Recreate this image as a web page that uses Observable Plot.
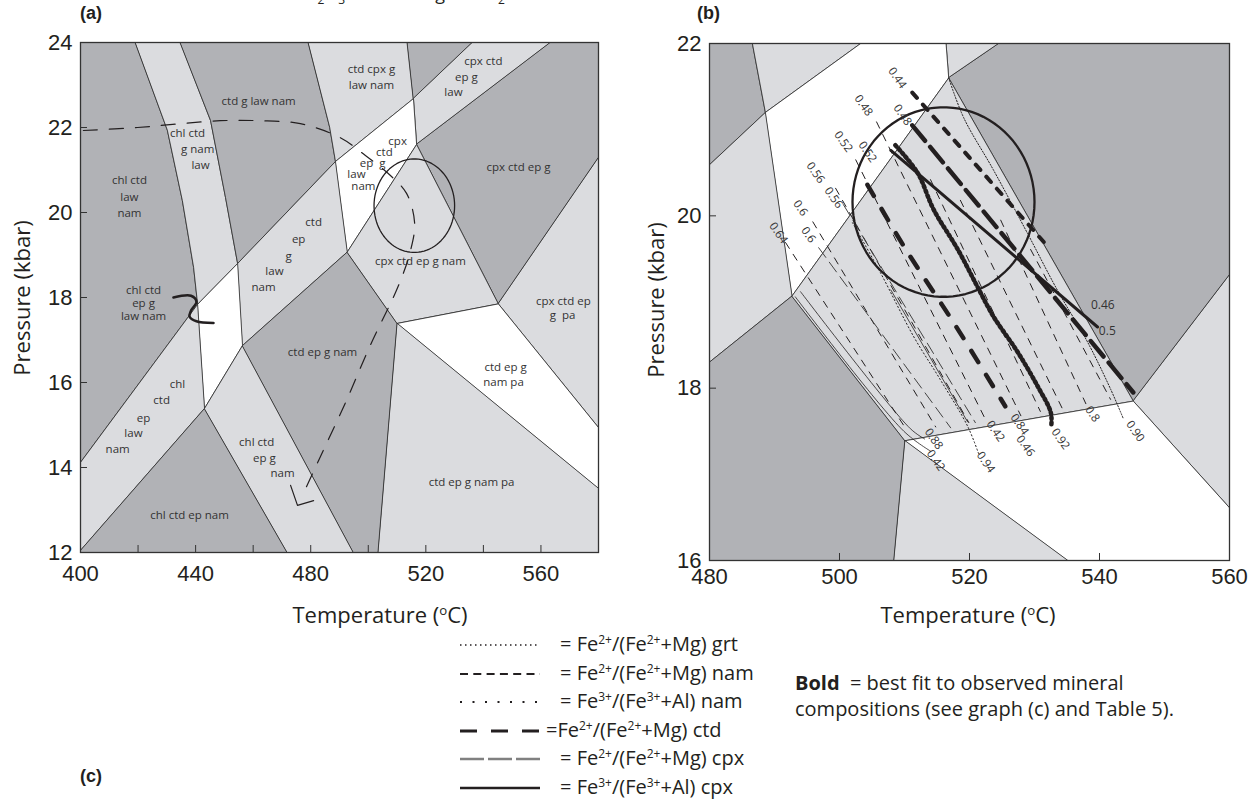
<!DOCTYPE html>
<html><head><meta charset="utf-8">
<script src="https://cdn.jsdelivr.net/npm/d3@7"></script>
<script src="https://cdn.jsdelivr.net/npm/@observablehq/plot@0.6"></script>
<style>
body{margin:0;background:#fff;}
#root{position:relative;width:1252px;height:804px;overflow:hidden;font-family:"Open Sans",sans-serif;color:#231f20;}
.abs{position:absolute;white-space:nowrap;}
.panel{font-family:"Liberation Sans",Arial,sans-serif;font-weight:bold;font-size:18px;}
.axlab{font-family:"Open Sans",sans-serif;font-size:22px;}
.leg{font-size:20px;line-height:28px;}
.leg sup, .axlab sup{font-size:0.6em;vertical-align:0.6em;line-height:0;}
</style></head><body><div id="root"></div>
<script>
// ---------- data ----------
const xTicksA = [400, 440, 480, 520, 560];
const xMinorA = [400, 420, 440, 460, 480, 500, 520, 540, 560, 580];
const yTicksA = [12, 14, 16, 18, 20, 22, 24];
const xTicksB = [480, 500, 520, 540, 560];
const yTicksB = [16, 18, 20, 22];

// phase fields (T in °C, P in kbar)
const fields = [
  {shade: "dark",  pts: [[400,24],[419.1,24],[430.2,21.93],[435.4,20.28],[439.3,18.71],[440.7,17.84],[400,14.12]]},
  {shade: "light", pts: [[419.1,24],[434.7,24],[445.2,22.16],[450.4,20.35],[454.6,18.8],[440.7,17.84],[439.3,18.71],[435.4,20.28],[430.2,21.93]]},
  {shade: "dark",  pts: [[434.7,24],[479.2,24],[486.6,22],[488.6,21.2],[454.6,18.8],[450.4,20.35],[445.2,22.16]]},
  {shade: "light", pts: [[479.2,24],[513.6,24],[515.7,22.68],[488.6,21.2],[486.6,22]]},
  {shade: "dark",  pts: [[513.6,24],[536.2,24],[515.7,22.68]]},
  {shade: "light", pts: [[536.2,24],[563.3,24],[516.8,21.6],[515.7,22.68]]},
  {shade: "dark",  pts: [[563.3,24],[580,24],[580,21.29],[545.2,17.85],[516.8,21.6]]},
  {shade: "light", pts: [[580,21.29],[580,14.94],[545.2,17.85]]},
  {shade: "white", pts: [[488.6,21.2],[515.7,22.68],[516.8,21.6],[492.7,19.07]]},
  {shade: "light", pts: [[454.6,18.8],[488.6,21.2],[492.7,19.07],[456.3,16.87]]},
  {shade: "white", pts: [[440.7,17.84],[454.6,18.8],[456.3,16.87],[443.1,15.39]]},
  {shade: "light", pts: [[400,14.12],[440.7,17.84],[443.1,15.39],[400,12.05]]},
  {shade: "dark",  pts: [[400,12.05],[443.1,15.39],[471.9,12],[400,12]]},
  {shade: "light", pts: [[443.1,15.39],[456.3,16.87],[494.9,12],[471.9,12]]},
  {shade: "dark",  pts: [[456.3,16.87],[492.7,19.07],[510.1,17.39],[503.5,12],[494.9,12]]},
  {shade: "light", pts: [[492.7,19.07],[516.8,21.6],[545.2,17.85],[510.1,17.39]]},
  {shade: "white", pts: [[510.1,17.39],[545.2,17.85],[580,14.94],[580,13.51]]},
  {shade: "light", pts: [[510.1,17.39],[580,13.51],[580,12],[503.5,12]]}
];

// field labels in panel (a): [text, T, P]
const fieldLabels = [
  ["ctd g law nam",461.9,22.61],
  ["chl ctd",437.2,21.86],["g nam",440.7,21.48],["law",441.7,21.11],
  ["chl ctd",417.0,20.75],["law",417.0,20.35],["nam",417.0,19.98],
  ["ctd cpx g",501.1,23.36],["law nam",501.1,22.99],
  ["cpx ctd",540.0,23.55],["ep g",534.1,23.18],["law",529.6,22.82],
  ["cpx",510.2,21.67],["ctd",505.6,21.41],["ep  g",501.5,21.15],["law",495.9,20.89],["nam",498.3,20.61],
  ["cpx ctd ep g",552.2,21.06],
  ["ctd",481.0,19.76],["ep",475.8,19.36],["g",472.3,18.96],["law",467.4,18.61],["nam",463.6,18.24],
  ["cpx ctd ep g nam",518.1,18.85],
  ["chl ctd",421.9,18.15],["ep g",421.9,17.85],["law nam",421.9,17.55],
  ["chl",433.7,15.95],["ctd",428.2,15.58],["ep",421.9,15.15],["law",418.4,14.80],["nam",412.9,14.42],
  ["ctd ep g nam",484.1,16.71],
  ["chl ctd",461.2,14.59],["ep g",463.9,14.21],["nam",470.2,13.86],
  ["chl ctd ep nam",437.9,12.87],
  ["cpx ctd ep",567.8,17.9],["g  pa",567.5,17.58],
  ["ctd ep g",547.7,16.35],["nam pa",547.0,16.0],
  ["ctd ep g nam pa",535.9,13.65]
];

// P–T path (panel a)
const ptPath = [[401.0,21.93],[419.8,22.0],[434.7,22.09],[448.6,22.16],[461.9,22.16],[476.4,22.09],[490.3,21.76],[499.0,21.34],[507.7,20.87],[513.3,20.45],[516.1,19.76],[514.7,19.11],[510.5,18.28],[500.8,16.89],[492.1,15.53],[482.7,14.16],[477.1,13.34]];
const ptArrow = [[473.0,13.58],[475.4,13.11],[481.0,13.22]];
const squiggle = [[432.3,18.0],[438.4,18.04],[440.3,17.90],[438.4,17.69],[437.9,17.55],[440.3,17.44],[446.2,17.40]];

// circle of estimated peak conditions
const circleCenter = [516, 20.16];
const circleRadius = [14, 1.1];

// isopleths (panel b)
const isoLines = [
  {kind:"namFe2Bold", pts:[[511.2,21.43],[532.2,19.63]]},
  {kind:"cpxFe2Bold", pts:[[511.2,21.05],[545.2,17.95]]},
  {kind:"cpxFe3Bold", pts:[[507.9,20.76],[539.7,18.71]]},
  {kind:"ctdBold",    pts:[[504.3,20.36],[510.2,19.61],[517.9,18.72],[525.5,17.79]]},
  {kind:"grtBold",    pts:[[508.6,20.82],[512.0,20.50],[514.5,20.07],[518.2,19.61],[521.2,19.18],[523.7,18.83],[527.4,18.42],[530.5,18.02],[532.5,17.72],[532.6,17.58]]},
  {kind:"grt",        pts:[[516.8,21.6],[519.1,21.14],[523.7,20.53],[528.9,19.80],[533.5,19.14],[538.2,18.53],[541.7,17.99],[543.7,17.64]]},
  {kind:"namFe3",     pts:[[502.0,19.92],[506.3,19.34],[511.4,18.60],[515.5,18.10],[519.7,17.56],[521.4,17.24]]},
  {kind:"namFe2",     pts:[[491.7,19.69],[510.2,17.53]]},
  {kind:"namFe2",     pts:[[495.9,19.93],[514.8,17.55]]},
  {kind:"namFe2",     pts:[[499.4,20.32],[519.9,17.60]]},
  {kind:"namFe2",     pts:[[502.5,20.65],[522.5,17.63]]},
  {kind:"namFe2",     pts:[[505.7,21.09],[527.9,17.68]]},
  {kind:"cpxFe2",     pts:[[496.8,19.63],[517.1,17.54]]},
  {kind:"cpxFe2",     pts:[[500.6,20.13],[520.9,17.60]]},
  {kind:"namFe2",     pts:[[518.6,20.18],[534.3,17.76]]},
  {kind:"namFe2",     pts:[[524.8,19.95],[537.9,17.82]]},
  {kind:"namFe2",     pts:[[514.0,20.42],[530.9,17.73]]},
  {kind:"namFe2",     pts:[[529.4,19.61],[541.7,17.87]]},
  {kind:"cpxFe3",     pts:[[493.2,19.06],[509.9,17.50],[514.0,17.27]]},
  {kind:"cpxFe3",     pts:[[494.0,19.12],[510.9,17.53],[513.1,17.41]]},
  {kind:"cpxFe3",     pts:[[507.9,19.14],[519.7,17.61]]}
];

// isopleth labels (panel b): [text, T, P]
const isoLabelsRot = [
  ["0.44",508.9,21.60],["0.48",503.7,21.28],["0.48",509.7,21.17],["0.52",500.6,20.86],["0.52",504.3,20.74],
  ["0.56",496.3,20.50],["0.56",499.1,20.21],["0.6",494.0,20.09],["0.6",495.2,19.78],["0.64",490.6,19.80],
  ["0.88",514.5,17.41],["0.42",514.8,17.16],["0.94",522.5,17.14],["0.42",524.0,17.50],["0.84",527.7,17.58],
  ["0.46",528.6,17.33],["0.92",534.0,17.41],["0.8",538.9,17.70],["0.90",545.5,17.50]
];
const isoLabelsFlat = [["0.46",540.5,18.96],["0.5",541.2,18.66]];

// legend
const legendKeys = ["grt","namFe2","namFe3","ctd","cpxFe2","cpxFe3"];
const legendTexts = [
  "= Fe<sup>2+</sup>/(Fe<sup>2+</sup>+Mg) grt",
  "= Fe<sup>2+</sup>/(Fe<sup>2+</sup>+Mg) nam",
  "= Fe<sup>3+</sup>/(Fe<sup>3+</sup>+Al) nam",
  "=Fe<sup>2+</sup>/(Fe<sup>2+</sup>+Mg) ctd",
  "= Fe<sup>2+</sup>/(Fe<sup>2+</sup>+Mg) cpx",
  "= Fe<sup>3+</sup>/(Fe<sup>3+</sup>+Al) cpx"
];

// ---------- styles ----------
const shadeColor = {dark: "#b1b2b6", light: "#dbdcdf", white: "#ffffff"};
const INK = "#231f20";
const isoStyle = {
  namFe2Bold: {stroke: INK, strokeWidth: 4, strokeDasharray: "7,9"},
  cpxFe2Bold: {stroke: INK, strokeWidth: 4.5, strokeDasharray: "20,8"},
  cpxFe3Bold: {stroke: INK, strokeWidth: 3},
  ctdBold:    {stroke: INK, strokeWidth: 4.5, strokeDasharray: "13,15"},
  grtBold:    {stroke: INK, strokeWidth: 4.5, strokeDasharray: "1.8,3.2"},
  grt:        {stroke: INK, strokeWidth: 1, strokeDasharray: "1.3,1.7"},
  namFe3:     {stroke: INK, strokeWidth: 1, strokeDasharray: "1.3,2.5"},
  namFe2:     {stroke: INK, strokeWidth: 1, strokeDasharray: "7,7"},
  cpxFe2:     {stroke: "#444", strokeWidth: 1, strokeDasharray: "12,6"},
  cpxFe3:     {stroke: INK, strokeWidth: 0.8}
};
const legendStyle = {
  grt:    {dash: "1.5,3.5", w: 1.5, c: INK},
  namFe2: {dash: "8,5.3", w: 2, c: INK},
  namFe3: {dash: "2,10.5", w: 2, c: INK},
  ctd:    {dash: "17,14", w: 3, c: INK},
  cpxFe2: {dash: "24,4", w: 2.5, c: "#808080"},
  cpxFe3: {dash: null, w: 2.5, c: INK}
};

const root = document.getElementById("root");
const X = d => d[0], Y = d => d[1];
const ring = d3.range(0, 361, 4).map(a => [circleCenter[0] + circleRadius[0]*Math.cos(a*Math.PI/180), circleCenter[1] + circleRadius[1]*Math.sin(a*Math.PI/180)]);

function fieldMarks() {
  return fields.map(f => Plot.line(f.pts, {x: X, y: Y, curve: "linear-closed", fill: shadeColor[f.shade], stroke: "#2b2b2b", strokeWidth: 0.8, clip: true}));
}
function axes(xt, yt, frameW, frameH, xPad) {
  return [
    Plot.tickX(xt.minor, {x: d => d, insetTop: frameH - 7, stroke: "#333", strokeWidth: 1}),
    Plot.tickY(yt, {y: d => d, insetRight: frameW - 7, stroke: "#333", strokeWidth: 1}),
    Plot.axisX({ticks: xt.major, tickSize: 0, tickPadding: xPad, fontSize: 22, tickFormat: d => String(d)}),
    Plot.axisY({ticks: yt, tickSize: 0, tickPadding: 8, fontSize: 22, tickFormat: d => String(d)}),
    Plot.frame({stroke: "#333", strokeWidth: 1.3})
  ];
}

// ---------- panel (a) ----------
const plotA = Plot.plot({
  width: 620, height: 600, marginLeft: 80, marginRight: 22, marginTop: 42, marginBottom: 48,
  x: {domain: [400, 580], label: null}, y: {domain: [12, 24], label: null},
  style: {fontFamily: "'Liberation Sans', Arial, sans-serif", background: "transparent", overflow: "visible", color: INK},
  marks: [
    ...fieldMarks(),
    Plot.text(fieldLabels, {x: d => d[1], y: d => d[2], text: d => d[0], fontFamily: "Open Sans", fontSize: 11.5, lineHeight: 0.9, fill: "#333"}),
    Plot.line(ptPath, {x: X, y: Y, curve: "catmull-rom", stroke: INK, strokeWidth: 1.2, strokeDasharray: "14,12"}),
    Plot.line(ptArrow, {x: X, y: Y, stroke: INK, strokeWidth: 1.2}),
    Plot.line(squiggle, {x: X, y: Y, curve: "catmull-rom", stroke: INK, strokeWidth: 2.6}),
    Plot.line(ring, {x: X, y: Y, stroke: INK, strokeWidth: 1.3}),
    ...axes({major: xTicksA, minor: xMinorA}, yTicksA, 518, 510, 13)
  ]
});
plotA.style.position = "absolute"; plotA.style.left = "0px"; plotA.style.top = "0px";
root.appendChild(plotA);

// ---------- panel (b) ----------
const plotB = Plot.plot({
  width: 632, height: 600, marginLeft: 89, marginRight: 23, marginTop: 43, marginBottom: 40,
  x: {domain: [480, 560], label: null}, y: {domain: [16, 22], label: null},
  style: {fontFamily: "'Liberation Sans', Arial, sans-serif", background: "transparent", overflow: "visible", color: INK},
  marks: [
    ...fieldMarks(),
    ...isoLines.map(l => Plot.line(l.pts, {x: X, y: Y, curve: "catmull-rom", clip: true, ...isoStyle[l.kind]})),
    Plot.line(ring, {x: X, y: Y, stroke: INK, strokeWidth: 2.3, clip: true}),
    Plot.text(isoLabelsRot, {x: d => d[1], y: d => d[2], text: d => d[0], rotate: 55, fontFamily: "Open Sans", fontSize: 11.5, fill: "#333"}),
    Plot.text(isoLabelsFlat, {x: d => d[1], y: d => d[2], text: d => d[0], fontFamily: "Open Sans", fontSize: 12, fill: "#333"}),
    ...axes({major: xTicksB, minor: xTicksB}, yTicksB, 520, 517, 8)
  ]
});
plotB.style.position = "absolute"; plotB.style.left = "620px"; plotB.style.top = "0px";
root.appendChild(plotB);

// ---------- texts ----------
function addDiv(cls, html, css) {
  const d = document.createElement("div");
  d.className = "abs " + cls; d.innerHTML = html;
  Object.assign(d.style, css); root.appendChild(d); return d;
}
addDiv("panel", "(a)", {left: "80px", top: "3px"});
addDiv("panel", "(b)", {left: "697px", top: "3px"});
addDiv("panel", "(c)", {left: "80px", top: "766px"});
addDiv("axlab", "Temperature (<sup>o</sup>C)", {left: "380px", top: "599px", transform: "translateX(-50%)"});
addDiv("axlab", "Temperature (<sup>o</sup>C)", {left: "968px", top: "599px", transform: "translateX(-50%)"});
addDiv("axlab", "Pressure (kbar)", {left: "21px", top: "298px", transform: "translate(-50%,-50%) rotate(-90deg)"});
addDiv("axlab", "Pressure (kbar)", {left: "655px", top: "300px", transform: "translate(-50%,-50%) rotate(-90deg)"});

// cut-off title line at the very top
const ns = "http://www.w3.org/2000/svg";
const titleSvg = document.createElementNS(ns, "svg");
titleSvg.setAttribute("width", 1252); titleSvg.setAttribute("height", 12);
titleSvg.style.position = "absolute"; titleSvg.style.left = "0"; titleSvg.style.top = "0";
titleSvg.innerHTML = `<g font-family="Open Sans" font-size="18" fill="${INK}">
<text x="298" y="0">Fe<tspan dy="4" font-size="12">2</tspan><tspan dy="-4">O</tspan><tspan dy="4" font-size="12">3</tspan></text>
<text x="419" y="0">Mg</text>
<text x="484" y="0">O<tspan dy="4" font-size="12">2</tspan></text></g>`;
root.appendChild(titleSvg);

// legend
legendKeys.forEach((k, i) => {
  const s = legendStyle[k];
  const yc = 645 + i * 28.5;
  const svg = document.createElementNS(ns, "svg");
  svg.setAttribute("width", 84); svg.setAttribute("height", 10);
  Object.assign(svg.style, {position: "absolute", left: "458px", top: (yc - 5) + "px"});
  svg.innerHTML = `<line x1="2" x2="82" y1="5" y2="5" stroke="${s.c}" stroke-width="${s.w}" ${s.dash ? `stroke-dasharray="${s.dash}"` : ""}/>`;
  root.appendChild(svg);
  addDiv("leg", legendTexts[i], {left: (k === "ctd" ? 546 : 560) + "px", top: (yc - 15) + "px"});
});
addDiv("leg", "<b>Bold</b>&nbsp;&nbsp;= best fit to observed mineral", {left: "795px", top: "669px"});
addDiv("leg", "compositions (see graph (c) and Table 5).", {left: "795px", top: "695px"});
</script></body></html>
